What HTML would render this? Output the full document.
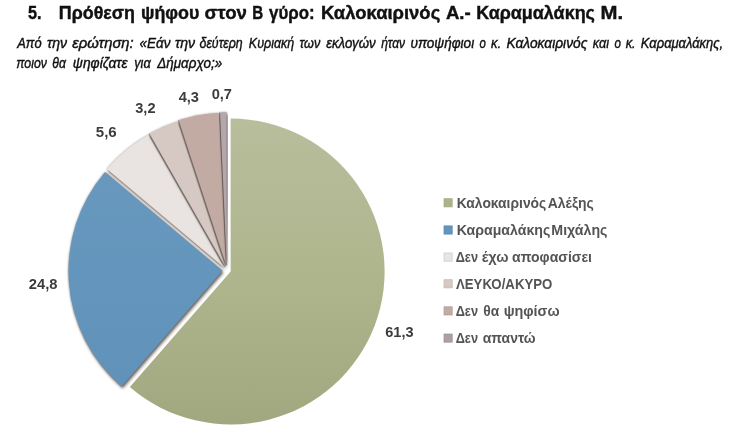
<!DOCTYPE html>
<html lang="el">
<head>
<meta charset="utf-8">
<title>Πρόθεση ψήφου στον Β γύρο</title>
<style>
html,body{margin:0;padding:0;background:#fff;}
body{width:750px;height:430px;overflow:hidden;font-family:"Liberation Sans",sans-serif;}
svg{display:block;}
text{font-family:"Liberation Sans",sans-serif;}
.t{font-weight:bold;fill:#111;stroke:#111;stroke-width:0.4;}
.s{font-style:italic;fill:#111;stroke:#111;stroke-width:0.4;}
.l{font-weight:bold;fill:#3c3c3c;}
.g{font-weight:bold;fill:#545454;}
</style>
</head>
<body>
<svg width="750" height="430" viewBox="0 0 750 430">
<defs>
<filter id="sh" x="-10%" y="-10%" width="120%" height="120%" color-interpolation-filters="sRGB">
<feGaussianBlur in="SourceAlpha" stdDeviation="1.5"/>
<feOffset dx="0.8" dy="2.3"/>
<feColorMatrix type="matrix" values="0 0 0 0 0.28  0 0 0 0 0.22  0 0 0 0 0.18  0 0 0 0.75 0" result="s1"/>
<feGaussianBlur in="SourceAlpha" stdDeviation="1.0"/>
<feColorMatrix type="matrix" values="0 0 0 0 0.3  0 0 0 0 0.27  0 0 0 0 0.25  0 0 0 0.5 0" result="s2"/>
<feMerge><feMergeNode in="s2"/><feMergeNode in="s1"/><feMergeNode in="SourceGraphic"/></feMerge>
</filter>
<linearGradient id="gg" x1="0" y1="0" x2="0" y2="1"><stop offset="0" stop-color="#b8bd9c"/><stop offset="0.5" stop-color="#afb68d"/><stop offset="1" stop-color="#a1a87f"/></linearGradient>
<linearGradient id="gb" x1="0" y1="0" x2="0" y2="1"><stop offset="0" stop-color="#6898be"/><stop offset="1" stop-color="#6092ba"/></linearGradient>
</defs>
<rect width="750" height="430" fill="#fff"/>
<g id="title">
<text class="t" x="27.90" y="19.1" font-size="17.6" textLength="13.52" lengthAdjust="spacingAndGlyphs">5.</text>
<text class="t" x="58.89" y="19.1" font-size="17.6" textLength="76.07" lengthAdjust="spacingAndGlyphs">Πρόθεση</text>
<text class="t" x="140.99" y="19.1" font-size="17.6" textLength="58.36" lengthAdjust="spacingAndGlyphs">ψήφου</text>
<text class="t" x="204.60" y="19.1" font-size="17.6" textLength="42.33" lengthAdjust="spacingAndGlyphs">στον</text>
<text class="t" x="252.24" y="19.1" font-size="17.6" textLength="10.97" lengthAdjust="spacingAndGlyphs">Β</text>
<text class="t" x="269.10" y="19.1" font-size="17.6" textLength="45.52" lengthAdjust="spacingAndGlyphs">γύρο:</text>
<text class="t" x="320.95" y="19.1" font-size="17.6" textLength="119.30" lengthAdjust="spacingAndGlyphs">Καλοκαιρινός</text>
<text class="t" x="445.90" y="19.1" font-size="17.6" textLength="24.75" lengthAdjust="spacingAndGlyphs">Α.-</text>
<text class="t" x="476.18" y="19.1" font-size="17.6" textLength="118.77" lengthAdjust="spacingAndGlyphs">Καραμαλάκης</text>
<text class="t" x="600.64" y="19.1" font-size="17.6" textLength="22.58" lengthAdjust="spacingAndGlyphs">Μ.</text>
</g><g id="sub">
<text class="s" x="17.27" y="48.3" font-size="14.0" textLength="24.38" lengthAdjust="spacingAndGlyphs">Από</text>
<text class="s" x="46.95" y="48.3" font-size="14.0" textLength="20.20" lengthAdjust="spacingAndGlyphs">την</text>
<text class="s" x="72.35" y="48.3" font-size="14.0" textLength="61.38" lengthAdjust="spacingAndGlyphs">ερώτηση:</text>
<text class="s" x="139.55" y="48.3" font-size="14.0" textLength="30.80" lengthAdjust="spacingAndGlyphs">«Εάν</text>
<text class="s" x="174.95" y="48.3" font-size="14.0" textLength="20.20" lengthAdjust="spacingAndGlyphs">την</text>
<text class="s" x="199.55" y="48.3" font-size="14.0" textLength="43.10" lengthAdjust="spacingAndGlyphs">δεύτερη</text>
<text class="s" x="248.85" y="48.3" font-size="14.0" textLength="45.30" lengthAdjust="spacingAndGlyphs">Κυριακή</text>
<text class="s" x="299.55" y="48.3" font-size="14.0" textLength="20.70" lengthAdjust="spacingAndGlyphs">των</text>
<text class="s" x="326.15" y="48.3" font-size="14.0" textLength="49.50" lengthAdjust="spacingAndGlyphs">εκλογών</text>
<text class="s" x="381.15" y="48.3" font-size="14.0" textLength="23.90" lengthAdjust="spacingAndGlyphs">ήταν</text>
<text class="s" x="410.45" y="48.3" font-size="14.0" textLength="63.71" lengthAdjust="spacingAndGlyphs">υποψήφιοι</text>
<text class="s" x="479.55" y="48.3" font-size="14.0" textLength="6.33" lengthAdjust="spacingAndGlyphs">ο</text>
<text class="s" x="490.95" y="48.3" font-size="14.0" textLength="10.13" lengthAdjust="spacingAndGlyphs">κ.</text>
<text class="s" x="506.45" y="48.3" font-size="14.0" textLength="81.01" lengthAdjust="spacingAndGlyphs">Καλοκαιρινός</text>
<text class="s" x="592.85" y="48.3" font-size="14.0" textLength="16.30" lengthAdjust="spacingAndGlyphs">και</text>
<text class="s" x="614.45" y="48.3" font-size="14.0" textLength="6.42" lengthAdjust="spacingAndGlyphs">ο</text>
<text class="s" x="625.65" y="48.3" font-size="14.0" textLength="10.02" lengthAdjust="spacingAndGlyphs">κ.</text>
<text class="s" x="640.85" y="48.3" font-size="14.0" textLength="82.32" lengthAdjust="spacingAndGlyphs">Καραμαλάκης,</text>
<text class="s" x="16.35" y="67.7" font-size="14.0" textLength="30.50" lengthAdjust="spacingAndGlyphs">ποιον</text>
<text class="s" x="52.35" y="67.7" font-size="14.0" textLength="13.61" lengthAdjust="spacingAndGlyphs">θα</text>
<text class="s" x="72.85" y="67.7" font-size="14.0" textLength="54.76" lengthAdjust="spacingAndGlyphs">ψηφίζατε</text>
<text class="s" x="134.15" y="67.7" font-size="14.0" textLength="16.57" lengthAdjust="spacingAndGlyphs">για</text>
<text class="s" x="157.31" y="67.7" font-size="14.0" textLength="64.84" lengthAdjust="spacingAndGlyphs">Δήμαρχο;»</text>
</g>
<g id="pie" transform="translate(0.3 1.95) scale(1 0.993)">
<path d="M230.34,271.47 L230.34,117.47 A154.0,154.0 0 1 1 129.50,387.87 Z" fill="url(#gg)"/>
<path filter="url(#sh)" d="M222.21,270.82 L121.38,387.22 A154.0,154.0 0 0 1 104.71,171.28 Z" fill="url(#gb)"/>
<path filter="url(#sh)" d="M224.02,267.67 L106.52,168.12 A154.0,154.0 0 0 1 148.07,133.70 Z" fill="#e9e4e1"/>
<path filter="url(#sh)" d="M224.91,266.76 L148.96,132.79 A154.0,154.0 0 0 1 177.27,120.31 Z" fill="#d6c9c3"/>
<path filter="url(#sh)" d="M225.85,265.67 L178.22,119.22 A154.0,154.0 0 0 1 219.07,111.82 Z" fill="#c2aba3"/>
<path filter="url(#sh)" d="M226.31,265.20 L219.53,111.35 A154.0,154.0 0 0 1 226.31,111.20 Z" fill="#b3a7ac"/>
<line x1="224.61" y1="266.76" x2="148.66" y2="132.79" stroke="#4a4040" stroke-opacity="0.45" stroke-width="1.1"/>
<line x1="225.55" y1="265.67" x2="177.92" y2="119.22" stroke="#4a4040" stroke-opacity="0.45" stroke-width="1.1"/>
<line x1="226.01" y1="265.20" x2="219.23" y2="111.35" stroke="#4a4040" stroke-opacity="0.45" stroke-width="1.1"/>
</g>
<g id="labels">
<text class="l" x="385.25" y="337.2" font-size="14.7" textLength="28.27" lengthAdjust="spacingAndGlyphs">61,3</text>
<text class="l" x="28.85" y="288.8" font-size="14.7" textLength="28.67" lengthAdjust="spacingAndGlyphs">24,8</text>
<text class="l" x="95.80" y="137.3" font-size="14.7" textLength="20.92" lengthAdjust="spacingAndGlyphs">5,6</text>
<text class="l" x="135.25" y="113.4" font-size="14.7" textLength="20.27" lengthAdjust="spacingAndGlyphs">3,2</text>
<text class="l" x="178.65" y="102.3" font-size="14.7" textLength="20.37" lengthAdjust="spacingAndGlyphs">4,3</text>
<text class="l" x="211.65" y="99.0" font-size="14.7" textLength="20.37" lengthAdjust="spacingAndGlyphs">0,7</text>
</g><g id="legend">
<text class="g" x="456.65" y="207.5" font-size="14.5" textLength="89.62" lengthAdjust="spacingAndGlyphs">Καλοκαιρινός</text>
<text class="g" x="547.75" y="207.5" font-size="14.5" textLength="46.12" lengthAdjust="spacingAndGlyphs">Αλέξης</text>
<text class="g" x="456.65" y="234.7" font-size="14.5" textLength="93.63" lengthAdjust="spacingAndGlyphs">Καραμαλάκης</text>
<text class="g" x="551.35" y="234.7" font-size="14.5" textLength="56.13" lengthAdjust="spacingAndGlyphs">Μιχάλης</text>
<text class="g" x="455.65" y="261.8" font-size="14.5" textLength="22.36" lengthAdjust="spacingAndGlyphs">Δεν</text>
<text class="g" x="481.65" y="261.8" font-size="14.5" textLength="26.95" lengthAdjust="spacingAndGlyphs">έχω</text>
<text class="g" x="512.05" y="261.8" font-size="14.5" textLength="79.93" lengthAdjust="spacingAndGlyphs">αποφασίσει</text>
<text class="g" x="455.95" y="288.5" font-size="14.5" textLength="96.45" lengthAdjust="spacingAndGlyphs">ΛΕΥΚΟ/ΑΚΥΡΟ</text>
<text class="g" x="455.65" y="315.6" font-size="14.5" textLength="22.36" lengthAdjust="spacingAndGlyphs">Δεν</text>
<text class="g" x="483.25" y="315.6" font-size="14.5" textLength="16.02" lengthAdjust="spacingAndGlyphs">θα</text>
<text class="g" x="503.65" y="315.6" font-size="14.5" textLength="55.95" lengthAdjust="spacingAndGlyphs">ψηφίσω</text>
<text class="g" x="455.65" y="342.8" font-size="14.5" textLength="22.36" lengthAdjust="spacingAndGlyphs">Δεν</text>
<text class="g" x="482.65" y="342.8" font-size="14.5" textLength="52.94" lengthAdjust="spacingAndGlyphs">απαντώ</text>
</g>
<g id="squares">
<rect x="444.0" y="198.7" width="8.2" height="8.2" fill="#aab38b" stroke="#9fab80" stroke-width="0.7"/>
<rect x="444.0" y="225.9" width="8.2" height="8.2" fill="#6395bd" stroke="#4f86b3" stroke-width="0.7"/>
<rect x="444.0" y="253.0" width="8.2" height="8.2" fill="#e9e4e1" stroke="#cdc8c5" stroke-width="0.7"/>
<rect x="444.0" y="279.7" width="8.2" height="8.2" fill="#d6c9c3" stroke="#c4b7b1" stroke-width="0.7"/>
<rect x="444.0" y="306.8" width="8.2" height="8.2" fill="#c2aba3" stroke="#b19a92" stroke-width="0.7"/>
<rect x="444.0" y="334.0" width="8.2" height="8.2" fill="#ad9fa4" stroke="#9d9097" stroke-width="0.7"/>
</g>
</svg>
</body>
</html>
